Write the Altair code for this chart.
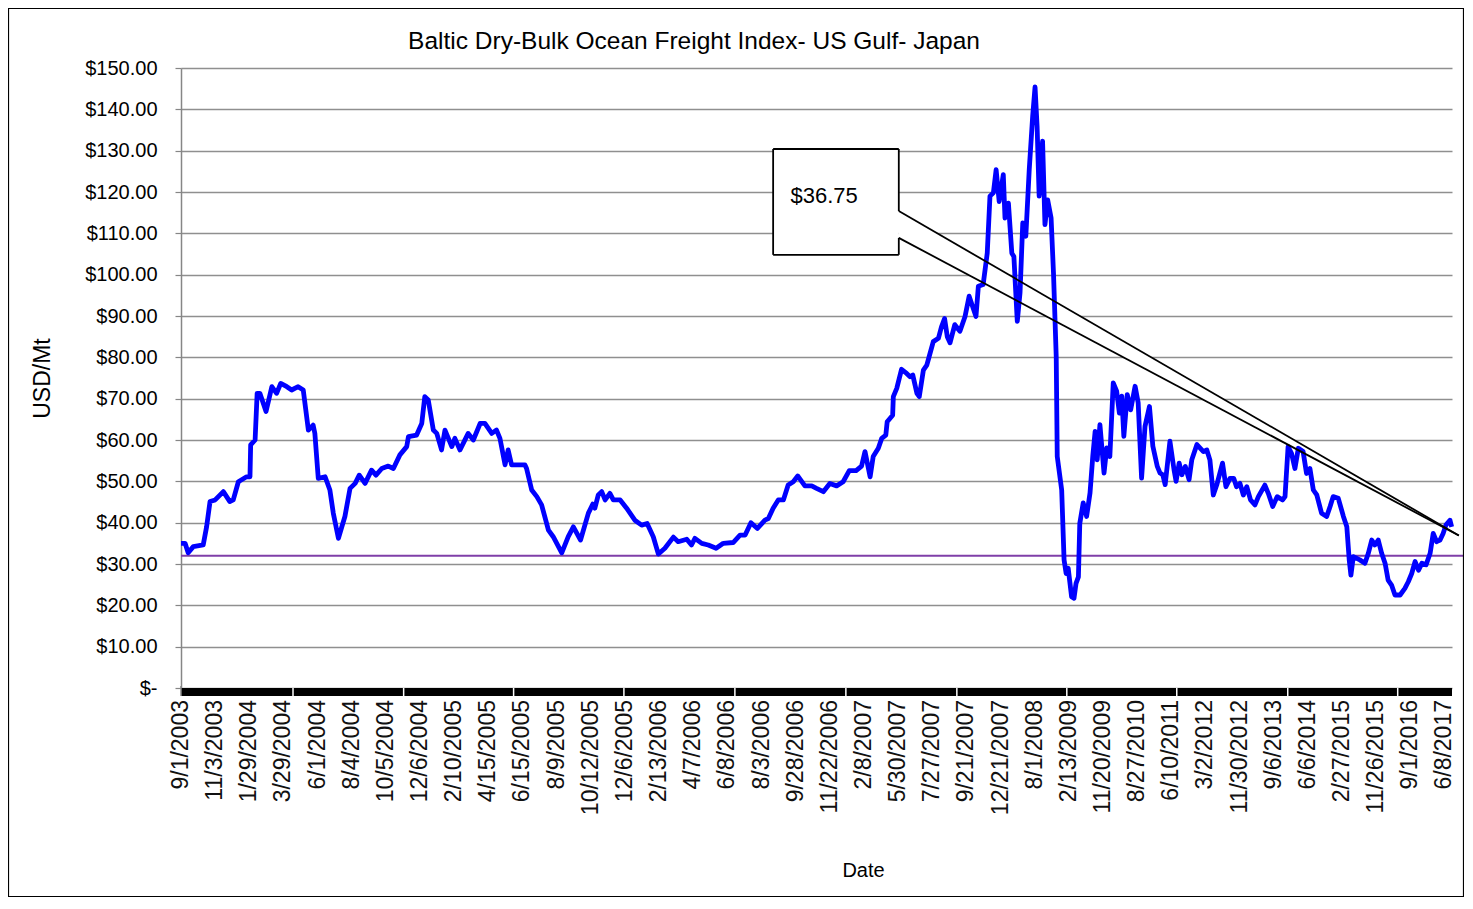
import altair as alt
import pandas as pd

# ---- data -------------------------------------------------------------
# category position (in units of the x-axis label spacing) and freight rate (USD/Mt)
pos = [0.00, 0.12, 0.21, 0.36, 0.65, 0.75, 0.85, 1.00, 1.24, 1.43, 1.53, 1.68, 1.92, 2.02, 2.04,
       2.17, 2.23, 2.31, 2.49, 2.66, 2.80, 2.92, 3.10, 3.24, 3.43, 3.58, 3.73, 3.87, 3.92, 4.02,
       4.22, 4.36, 4.46, 4.61, 4.71, 4.80, 4.95, 5.10, 5.22, 5.39, 5.58, 5.71, 5.88, 6.07, 6.22,
       6.41, 6.61, 6.66, 6.90, 7.05, 7.14, 7.24, 7.39, 7.49, 7.63, 7.73, 7.93, 8.02, 8.17, 8.41,
       8.56, 8.76, 8.90, 9.10, 9.24, 9.34, 9.49, 9.58, 9.68, 9.88, 10.07, 10.12, 10.27, 10.42, 10.56,
       10.76, 10.90, 11.15, 11.34, 11.49, 11.70, 11.93, 12.06, 12.12, 12.22, 12.32, 12.42, 12.56, 12.66, 12.86,
       13.05, 13.29, 13.49, 13.65, 13.83, 13.98, 14.17, 14.42, 14.56, 14.81, 14.95, 15.05, 15.25, 15.44, 15.67,
       15.88, 16.17, 16.37, 16.52, 16.69, 16.88, 17.10, 17.20, 17.34, 17.49, 17.64, 17.78, 17.93, 18.06, 18.27,
       18.47, 18.61, 18.81, 19.00, 19.20, 19.39, 19.57, 19.77, 19.93, 20.03, 20.18, 20.27, 20.42, 20.52, 20.64,
       20.68, 20.84, 20.86, 20.96, 21.10, 21.25, 21.35, 21.43, 21.55, 21.62, 21.74, 21.84, 21.91, 22.03, 22.18,
       22.27, 22.36, 22.44, 22.52, 22.66, 22.81, 22.96, 23.08, 23.28, 23.35, 23.49, 23.61, 23.69, 23.79, 23.87,
       23.96, 24.08, 24.13, 24.23, 24.33, 24.39, 24.49, 24.57, 24.65, 24.74, 24.84, 24.94, 25.01, 25.07, 25.13,
       25.23, 25.30, 25.38, 25.48, 25.55, 25.63, 25.66, 25.79, 25.86, 25.92, 25.98, 26.08, 26.15, 26.21, 26.28,
       26.32, 26.42, 26.52, 26.62, 26.70, 26.77, 26.83, 26.91, 27.03, 27.11, 27.20, 27.30, 27.40, 27.48, 27.55,
       27.61, 27.71, 27.81, 27.94, 28.03, 28.13, 28.23, 28.36, 28.46, 28.59, 28.67, 28.75, 28.82, 28.96, 29.08,
       29.14, 29.23, 29.31, 29.41, 29.52, 29.60, 29.75, 29.94, 30.04, 30.13, 30.23, 30.33, 30.50, 30.60, 30.72,
       30.83, 30.91, 31.01, 31.11, 31.21, 31.32, 31.45, 31.55, 31.74, 31.84, 31.97, 32.10, 32.26, 32.33, 32.42,
       32.52, 32.62, 32.72, 32.86, 32.96, 33.06, 33.16, 33.26, 33.40, 33.55, 33.65, 33.74, 33.89, 34.04, 34.14,
       34.21, 34.26, 34.33, 34.52, 34.67, 34.77, 34.87, 34.96, 35.06, 35.16, 35.26, 35.35, 35.45, 35.55, 35.70,
       35.84, 35.94, 36.04, 36.14, 36.24, 36.34, 36.46, 36.58, 36.67, 36.77, 36.87, 36.96, 37.04, 37.16, 37.21]

price = [35.0, 35.0, 32.7, 34.2, 34.6, 39.0, 45.1, 45.5, 47.5, 45.1, 45.5, 49.9, 51.1, 51.1, 58.8,
         60.0, 71.3, 71.3, 66.9, 72.9, 71.3, 73.7, 72.9, 72.1, 72.9, 72.1, 62.4, 63.6, 61.6, 50.7,
         51.1, 47.9, 42.3, 36.2, 39.0, 41.5, 48.3, 49.5, 51.5, 49.5, 52.7, 51.5, 53.1, 53.7, 53.1,
         56.4, 58.4, 60.8, 61.2, 64.0, 70.5, 69.7, 62.4, 61.6, 57.6, 62.4, 58.4, 60.4, 57.6, 61.6,
         60.0, 64.0, 64.0, 61.6, 62.4, 60.4, 54.0, 57.6, 54.0, 54.0, 54.0, 53.1, 47.9, 46.3, 44.3,
         38.2, 36.6, 32.7, 36.6, 39.0, 35.8, 42.3, 44.5, 43.5, 46.7, 47.5, 45.5, 47.1, 45.5, 45.5,
         43.5, 40.6, 39.4, 39.8, 36.6, 32.4, 33.8, 36.5, 35.4, 36.0, 34.6, 36.2, 35.0, 34.6, 33.8,
         35.0, 35.2, 37.0, 37.0, 40.0, 38.6, 40.6, 41.0, 43.5, 45.5, 45.5, 49.1, 49.9, 51.3, 48.9,
         48.9, 48.3, 47.5, 49.5, 48.9, 49.9, 52.6, 52.6, 53.7, 57.2, 51.1, 56.0, 58.0, 60.4, 61.2,
         64.4, 66.0, 70.5, 72.5, 77.1, 76.1, 75.3, 75.7, 71.3, 70.5, 76.9, 78.1, 80.2, 83.8, 84.6,
         87.4, 89.4, 85.0, 83.5, 87.9, 86.3, 89.9, 94.8, 89.9, 97.2, 97.6, 105.2, 119.0, 119.8, 125.4,
         117.7, 124.2, 113.7, 117.3, 105.2, 104.4, 88.7, 95.6, 112.5, 109.3, 125.4, 138.3, 145.4, 135.9, 119.0,
         132.3, 112.1, 118.1, 113.7, 100.4, 80.2, 56.0, 47.9, 31.0, 27.7, 29.0, 22.1, 21.7, 25.3, 26.9,
         39.8, 44.8, 41.5, 47.2, 56.0, 62.1, 55.2, 63.7, 52.0, 58.1, 56.0, 73.8, 71.8, 66.5, 70.6,
         60.9, 71.0, 67.3, 73.0, 69.0, 50.8, 63.3, 68.1, 58.5, 53.6, 52.0, 51.6, 49.2, 59.7, 52.8,
         50.0, 54.4, 51.6, 53.6, 50.4, 55.2, 58.9, 57.2, 57.6, 55.2, 46.7, 49.1, 54.4, 48.7, 50.7,
         50.7, 48.7, 49.5, 46.7, 48.7, 45.5, 44.3, 46.3, 49.1, 47.1, 43.9, 46.3, 45.5, 46.3, 58.4,
         56.8, 53.1, 58.0, 57.2, 51.9, 53.1, 47.9, 46.7, 42.3, 41.5, 43.9, 46.3, 45.9, 41.5, 39.0,
         31.0, 27.3, 31.8, 31.0, 30.2, 32.6, 35.8, 34.6, 35.8, 32.6, 30.2, 26.1, 24.9, 22.5, 22.5,
         24.1, 25.7, 27.7, 30.6, 28.5, 30.2, 29.8, 32.6, 37.4, 35.4, 35.8, 37.4, 39.4, 40.6, 39.0]

date_labels = ["9/1/2003", "11/3/2003", "1/29/2004", "3/29/2004", "6/1/2004", "8/4/2004",
               "10/5/2004", "12/6/2004", "2/10/2005", "4/15/2005", "6/15/2005", "8/9/2005",
               "10/12/2005", "12/6/2005", "2/13/2006", "4/7/2006", "6/8/2006", "8/3/2006",
               "9/28/2006", "11/22/2006", "2/8/2007", "5/30/2007", "7/27/2007", "9/21/2007",
               "12/21/2007", "8/1/2008", "2/13/2009", "11/20/2009", "8/27/2010", "6/10/2011",
               "3/2/2012", "11/30/2012", "9/6/2013", "6/6/2014", "2/27/2015", "11/26/2015",
               "9/1/2016", "6/8/2017"]
label_pos = list(range(len(date_labels)))   # one category label per label interval

y_ticks = [0, 10, 20, 30, 40, 50, 60, 70, 80, 90, 100, 110, 120, 130, 140, 150]
major_ticks = [3.28, 6.52, 9.74, 12.97, 16.22, 19.47, 22.72, 25.94, 29.16, 32.41, 35.63]
x_end = 37.22
ref_level = 32.0          # purple reference line
callout_text = "$36.75"
# callout geometry in data units (category position, USD/Mt)
box_x = [17.34, 21.02]
box_y = [104.8, 130.4]
tail_top = [21.02, 115.4]
tail_bot = [21.02, 108.9]
tail_tip = [37.42, 36.9]

FONT = "Liberation Sans, Arial, sans-serif"

df = pd.DataFrame({"pos": pos, "price": price})

x_scale = alt.Scale(domain=[0, x_end], nice=False, zero=False)
y_scale = alt.Scale(domain=[0, 150], nice=False)

# ---- blue series (carries the axes) -----------------------------------
line = alt.Chart(df).mark_line(color="#0000FF", strokeWidth=4.8, strokeJoin="round").encode(
    x=alt.X("pos:Q", scale=x_scale,
            axis=alt.Axis(values=label_pos, labels=False,
                          ticks=False, domain=False, grid=False,
                          title="Date", titleFont=FONT, titleFontSize=20, titleFontWeight="normal",
                          titleColor="#000000", titleX=682, titleY=182, titleAlign="center",
                          titleBaseline="middle")),
    y=alt.Y("price:Q", scale=y_scale,
            axis=alt.Axis(values=y_ticks,
                          labelExpr="datum.value == 0 ? '$-\u00a0\u00a0' : '$' + format(datum.value, '.2f')",
                          labelFont=FONT, labelFontSize=20, labelColor="#000000", labelPadding=18,
                          labelOverlap=False,
                          ticks=True, tickSize=6, tickColor="#868686", tickWidth=1.2,
                          domain=True, domainColor="#868686", domainWidth=1.5,
                          grid=True, gridColor="#8f8f8f", gridWidth=1.5,
                          title="USD/Mt", titleFont=FONT, titleFontSize=23, titleFontWeight="normal",
                          titleColor="#000000", titleAngle=270, titleX=-139, titleY=310,
                          titleAlign="center", titleBaseline="middle")),
)

# ---- rotated category labels --------------------------------------------
xlabels = alt.Chart(pd.DataFrame({"lp": label_pos, "lab": date_labels})).mark_text(
    angle=270, align="right", baseline="middle", font=FONT, fontSize=23, color="#111111").encode(
    x=alt.X("lp:Q", scale=x_scale),
    y=alt.value(632),
    text="lab:N",
)

# ---- reference line ---------------------------------------------------
ref = alt.Chart(pd.DataFrame({"lvl": [ref_level]})).mark_rule(color="#7F3FA8", strokeWidth=2).encode(
    y=alt.Y("lvl:Q", scale=y_scale),
    x=alt.value(0), x2=alt.value(1289),
)

# ---- callout fill -----------------------------------------------------
box_fill = alt.Chart(pd.DataFrame({"x0": [box_x[0]], "x1": [box_x[1]], "y0": [box_y[0]], "y1": [box_y[1]]})).mark_rect(
    color="white").encode(
    x=alt.X("x0:Q", scale=x_scale), x2="x1:Q",
    y=alt.Y("y0:Q", scale=y_scale), y2="y1:Q",
)
tail_fill = alt.Chart(pd.DataFrame({"tx": [tail_top[0], tail_tip[0]],
                                    "hi": [tail_top[1], tail_tip[1]],
                                    "lo": [tail_bot[1], tail_tip[1]]})).mark_area(color="white", opacity=1).encode(
    x=alt.X("tx:Q", scale=x_scale),
    y=alt.Y("hi:Q", scale=y_scale), y2="lo:Q",
)

# ---- callout outline --------------------------------------------------
segs = pd.DataFrame({
    "sx": [box_x[0], box_x[0], box_x[0], box_x[1], box_x[1], tail_top[0], tail_bot[0]],
    "sy": [box_y[0], box_y[1], box_y[0], box_y[1], tail_bot[1], tail_top[1], tail_bot[1]],
    "ex": [box_x[0], box_x[1], box_x[1], box_x[1], box_x[1], tail_tip[0], tail_tip[0]],
    "ey": [box_y[1], box_y[1], box_y[0], tail_top[1], box_y[0], tail_tip[1], tail_tip[1]],
})
outline = alt.Chart(segs).mark_rule(color="#000000", strokeWidth=1.8).encode(
    x=alt.X("sx:Q", scale=x_scale), x2="ex:Q",
    y=alt.Y("sy:Q", scale=y_scale), y2="ey:Q",
)
callout_label = alt.Chart(pd.DataFrame({"cx": [17.85], "cy": [119.0], "t": [callout_text]})).mark_text(
    align="left", baseline="middle", font=FONT, fontSize=22, color="#000000").encode(
    x=alt.X("cx:Q", scale=x_scale),
    y=alt.Y("cy:Q", scale=y_scale),
    text="t:N",
)

# ---- category tick band -----------------------------------------------
band = alt.Chart(pd.DataFrame({"b0": [0.0], "b1": [x_end]})).mark_rect(color="#000000").encode(
    x=alt.X("b0:Q", scale=x_scale), x2="b1:Q",
    y=alt.value(620), y2=alt.value(628),
)
gaps = alt.Chart(pd.DataFrame({"g": major_ticks})).mark_rule(color="#ffffff", strokeWidth=1.5).encode(
    x=alt.X("g:Q", scale=x_scale),
    y=alt.value(620), y2=alt.value(628),
)
axis_ext = alt.Chart(pd.DataFrame({"a": [0.0]})).mark_rule(color="#868686", strokeWidth=1.5).encode(
    x=alt.X("a:Q", scale=x_scale),
    y=alt.value(618), y2=alt.value(628),
)

# ---- title & frame ----------------------------------------------------
title = alt.Chart(pd.DataFrame({"t": ["Baltic Dry-Bulk Ocean Freight Index- US Gulf- Japan"]})).mark_text(
    align="center", baseline="middle", font=FONT, fontSize=24.5, color="#000000").encode(
    x=alt.value(513), y=alt.value(-26), text="t:N",
)
frame = alt.Chart(pd.DataFrame({"f": [0]})).mark_rect(
    fillOpacity=0, stroke="#000000", strokeWidth=1.2).encode(
    x=alt.value(-172.5), x2=alt.value(1282.5), y=alt.value(-59.5), y2=alt.value(828.5),
)

chart = alt.layer(
    ref, box_fill, tail_fill, line, outline, callout_label, band, gaps, axis_ext, xlabels, title, frame
).properties(
    width=1271, height=620,
    padding={"left": 173, "top": 60, "right": 12, "bottom": 209},
    autosize=alt.AutoSizeParams(type="none"),
    background="white",
).configure_view(strokeWidth=0)

chart.save("out.html", embed_options={"renderer": "svg", "actions": False})
